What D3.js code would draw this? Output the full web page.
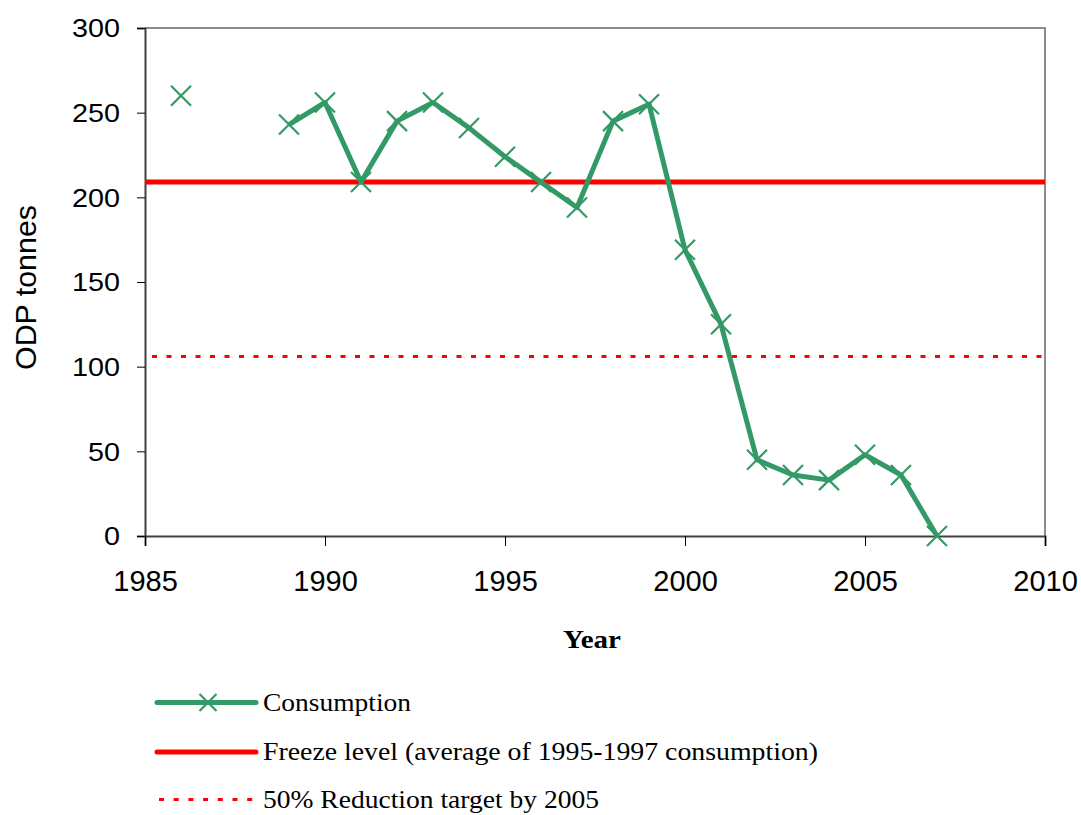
<!DOCTYPE html>
<html>
<head>
<meta charset="utf-8">
<script src="https://cdn.jsdelivr.net/npm/d3@7"></script>
<style>
  body { margin: 0; background: #fff; }
  svg text { fill: #000; }
</style>
</head>
<body>
<svg id="chart" width="1081" height="815"></svg>
<script>
// data
const years = [1986, 1987, 1988, 1989, 1990, 1991, 1992, 1993, 1994, 1995, 1996,
  1997, 1998, 1999, 2000, 2001, 2002, 2003, 2004, 2005, 2006, 2007]
const consumption = [260, null, null, 243, 256, 209, 245, 256, 241, 224, 209,
  194, 245, 255, 169, 125, 45, 36, 33, 48, 36, 0]
const freezeLevel = 209
const reductionTarget = 106
const xTicks = [1985, 1990, 1995, 2000, 2005, 2010]
const yTicks = [0, 50, 100, 150, 200, 250, 300]
const legendLabels = [
  'Consumption',
  'Freeze level (average of 1995-1997 consumption)',
  '50% Reduction target by 2005',
]

const green = '#339966'
const red = '#ff0000'
const sans = '"Liberation Sans", Arial, sans-serif'
const serif = '"Liberation Serif", "Times New Roman", serif'

const svg = d3.select('#chart')
const plot = { left: 145, right: 1045, top: 28, bottom: 536 }

const xScale = d3.scaleLinear().domain([1985, 2010]).range([plot.left, plot.right])
const yScale = d3.scaleLinear().domain([0, 300]).range([plot.bottom, plot.top])

const data = years.map((y, i) => ({ year: y, value: consumption[i] }))

// frame (top and right in grey)
svg.append('path')
  .attr('d', `M${plot.left},${plot.top}H${plot.right}V${plot.bottom}`)
  .attr('fill', 'none')
  .attr('stroke', '#8c8c8c')
  .attr('stroke-width', 2)

// axes
const yAxis = svg.append('g')
  .attr('transform', `translate(${plot.left},0)`)
  .call(d3.axisLeft(yScale).tickValues(yTicks).tickSize(8).tickPadding(25))
yAxis.select('.domain').attr('stroke', '#404040').attr('stroke-width', 2)
yAxis.selectAll('.tick text')
  .attr('dy', '0.34em')
  .attr('text-anchor', 'end')
  .attr('x', -25)
  .attr('textLength', d => String(d).length * 16)
  .attr('lengthAdjust', 'spacingAndGlyphs')
  .style('font-family', sans)
  .style('font-size', '26px')

const xAxis = svg.append('g')
  .attr('transform', `translate(0,${plot.bottom})`)
  .call(d3.axisBottom(xScale).tickValues(xTicks).tickFormat(d3.format('d')).tickSize(10).tickPadding(0))
xAxis.select('.domain').attr('stroke', '#404040').attr('stroke-width', 2)
xAxis.selectAll('.tick text')
  .attr('dy', null)
  .attr('y', 55)
  .style('font-family', sans)
  .style('font-size', '29px')

// axis titles
svg.append('text')
  .attr('x', 592).attr('y', 648)
  .attr('text-anchor', 'middle')
  .attr('textLength', 58)
  .attr('lengthAdjust', 'spacingAndGlyphs')
  .style('font-family', serif)
  .style('font-weight', 'bold')
  .style('font-size', '26px')
  .text('Year')

svg.append('text')
  .attr('transform', 'translate(36,287.5) rotate(-90)')
  .attr('text-anchor', 'middle')
  .attr('textLength', 165)
  .attr('lengthAdjust', 'spacingAndGlyphs')
  .style('font-family', sans)
  .style('font-size', '29px')
  .text('ODP tonnes')

// reference lines
svg.append('line')
  .attr('x1', plot.left).attr('x2', plot.right)
  .attr('y1', yScale(freezeLevel)).attr('y2', yScale(freezeLevel))
  .attr('stroke', red).attr('stroke-width', 5)

svg.append('line')
  .attr('x1', plot.left + 7).attr('x2', plot.right)
  .attr('y1', yScale(reductionTarget)).attr('y2', yScale(reductionTarget))
  .attr('stroke', red).attr('stroke-width', 3)
  .attr('stroke-dasharray', '5,9.5')

// consumption line
const line = d3.line()
  .defined(d => d.value !== null)
  .x(d => xScale(d.year))
  .y(d => yScale(d.value))

svg.append('path')
  .datum(data)
  .attr('d', line)
  .attr('fill', 'none')
  .attr('stroke', green)
  .attr('stroke-width', 5)
  .attr('stroke-linejoin', 'round')

const cross = (x, y, r) => `M${x - r},${y - r}L${x + r},${y + r}M${x - r},${y + r}L${x + r},${y - r}`

svg.append('g')
  .selectAll('path')
  .data(data.filter(d => d.value !== null))
  .join('path')
  .attr('d', d => cross(xScale(d.year), yScale(d.value), 10))
  .attr('stroke', green)
  .attr('stroke-width', 2.2)
  .attr('fill', 'none')

// legend
const legend = svg.append('g')
const legendRows = [702.5, 752, 799.5]
const legendBaselines = [710.7, 760, 808.3]
const legendWidths = [148, 555, 336]
const legendX = 157
const legendW = 99

legend.append('line')
  .attr('x1', legendX).attr('x2', legendX + legendW)
  .attr('y1', legendRows[0]).attr('y2', legendRows[0])
  .attr('stroke', green).attr('stroke-width', 5)
  .attr('stroke-linecap', 'round')
legend.append('path')
  .attr('d', cross(legendX + 51, legendRows[0], 8.5))
  .attr('stroke', green).attr('stroke-width', 2.2)

legend.append('line')
  .attr('x1', legendX).attr('x2', legendX + legendW)
  .attr('y1', legendRows[1]).attr('y2', legendRows[1])
  .attr('stroke', red).attr('stroke-width', 5)
  .attr('stroke-linecap', 'round')

legend.append('line')
  .attr('x1', legendX + 2).attr('x2', legendX + legendW)
  .attr('y1', legendRows[2]).attr('y2', legendRows[2])
  .attr('stroke', red).attr('stroke-width', 3)
  .attr('stroke-dasharray', '5,9.7')

legend.selectAll('text')
  .data(legendLabels)
  .join('text')
  .attr('x', 263)
  .attr('y', (d, i) => legendBaselines[i])
  .attr('textLength', (d, i) => legendWidths[i])
  .attr('lengthAdjust', 'spacingAndGlyphs')
  .style('font-family', serif)
  .style('font-size', '26px')
  .text(d => d)
</script>
</body>
</html>
